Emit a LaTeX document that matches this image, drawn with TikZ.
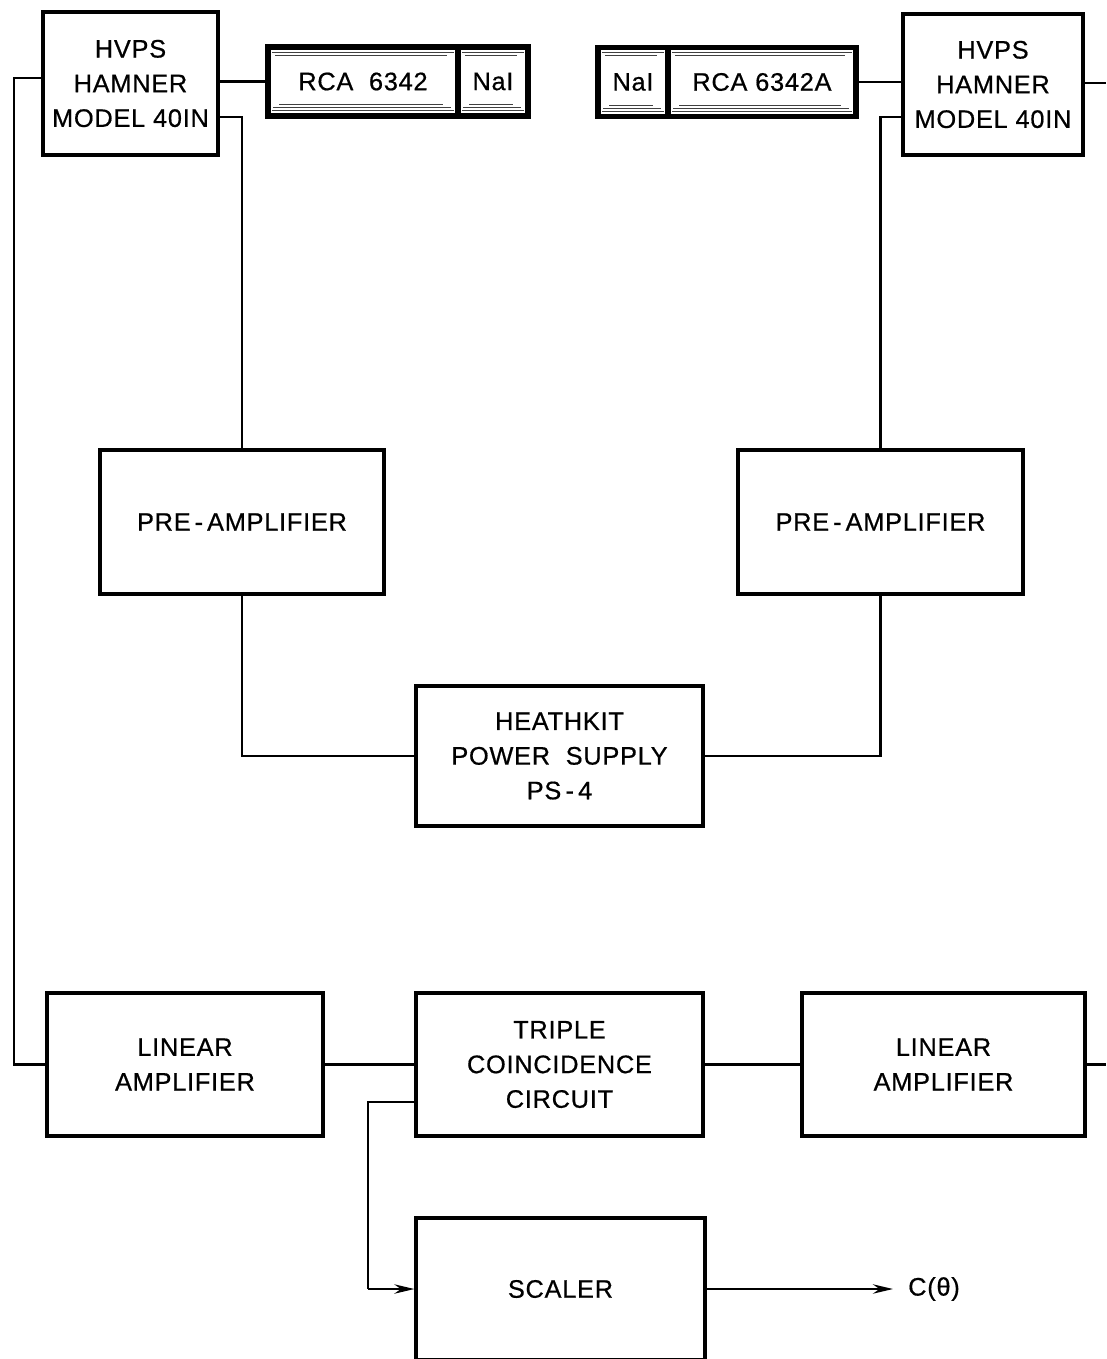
\documentclass[tikz,border=0pt]{standalone}
\usepackage{fontspec}
\setmainfont{Liberation Sans}[LetterSpace=3,FakeBold=0.6]
\usetikzlibrary{calc,arrows.meta}
\begin{document}
\begin{tikzpicture}[x=0.75pt,y=-0.75pt,
  blk/.style={draw,line width=2.4pt,align=center,inner sep=0pt,font=\fontsize{19}{26}\selectfont},
  wire/.style={line width=1.9pt},
  arr/.style={wire,-{Stealth[length=15pt,width=7pt]}},
  tubepart/.style={draw,line width=4.2pt,inner sep=0pt,font=\fontsize{19}{26}\selectfont,minimum height=51.75pt},
  shadeline/.style={line width=0.7pt,black!75}]
\fill[white] (0,0) rectangle (1106,1359);
\useasboundingbox (0,0) rectangle (1106,1359);
% levels
\coordinate (yA) at (0,78);
\coordinate (yB) at (0,117);
\coordinate (yC) at (0,83);
\coordinate (yD) at (0,1102);
\coordinate (lx) at (14,0);
\coordinate (sx) at (368,0);
\coordinate (rx) at (1106,0);
\coordinate (cend) at (893,0);
% blocks
\node[blk,minimum width=131.25pt,minimum height=107.25pt] (hvL) at (130.5,83.5) {HVPS\\HAMNER\\MODEL 40IN};
\node[blk,minimum width=135pt,minimum height=105.75pt] (hvR) at (993,84.5) {HVPS\\HAMNER\\MODEL 40IN};
\node[blk,minimum width=213pt,minimum height=108pt] (preL) at (242,522) {PRE\hspace{3pt}-\hspace{3pt}AMPLIFIER};
\node[blk,minimum width=213.75pt,minimum height=108pt] (preR) at (880.5,522) {PRE\hspace{3pt}-\hspace{3pt}AMPLIFIER};
\node[blk,minimum width=215.25pt,minimum height=105pt] (heath) at (559.5,756) {HEATHKIT\\POWER\ \ SUPPLY\\PS\,-\,4};
\node[blk,minimum width=207pt,minimum height=107.25pt] (linL) at (185,1064.5) {LINEAR\\AMPLIFIER};
\node[blk,minimum width=215.25pt,minimum height=107.25pt] (tcc) at (559.5,1064.5) {TRIPLE\\COINCIDENCE\\CIRCUIT};
\node[blk,minimum width=212.25pt,minimum height=107.25pt] (linR) at (943.5,1064.5) {LINEAR\\AMPLIFIER};
\node[blk,minimum width=216.75pt,minimum height=106.5pt] (scaler) at (560.5,1289) {SCALER};
\node[inner sep=0pt,anchor=west,font=\fontsize{19}{26}\selectfont] (cth) at (908,1289) {C(θ)};
% detector tubes
\node[tubepart,minimum width=142.5pt] (rcaL) at (363,81.5) {RCA\ \ 6342};
\node[tubepart,minimum width=52.5pt] (naiL) at (493,81.5) {NaI};
\node[tubepart,minimum width=52.5pt] (naiR) at (633,82) {NaI};
\node[tubepart,minimum width=141pt] (rcaR) at (762,82) {RCA 6342A};
\foreach \p in {rcaL,naiL,naiR,rcaR}{
  \draw[shadeline] ($(\p.north west)+(7,8)$) -- ($(\p.north east)+(-7,8)$);
  \draw[shadeline] ($(\p.north west)+(10,11)$) -- ($(\p.north east)+(-14,11)$);
  \draw[shadeline] ($(\p.south west)+(7,-8)$) -- ($(\p.south east)+(-7,-8)$);
  \draw[shadeline] ($(\p.south west)+(8,-11)$) -- ($(\p.south east)+(-10,-11)$);
  \draw[shadeline] ($(\p.south west)+(14,-14)$) -- ($(\p.south east)+(-18,-14)$);
}
% connectors
\draw[wire] (hvL.west |- yA) -- (lx |- yA) -- (lx |- linL.west) -- (linL.west);
\draw[wire] (rcaL.west -| hvL.east) -- (rcaL.west);
\draw[wire] (hvL.east |- yB) -| (preL.north);
\draw[wire] (preL.south) |- (heath.west);
\draw[wire] (heath.east) -| (preR.south);
\draw[wire] (preR.north) |- (hvR.west |- yB);
\draw[wire] (rcaR.east) -- (rcaR.east -| hvR.west);
\draw[wire] (hvR.east |- yC) -- (rx |- yC);
\draw[wire] (linL.east) -- (tcc.west);
\draw[wire] (tcc.east) -- (linR.west);
\draw[wire] (linR.east) -- (rx |- linR.east);
\draw[wire] (tcc.west |- yD) -- (sx |- yD) -- (sx |- scaler.west);
\draw[arr] (sx |- scaler.west) -- (scaler.west);
\draw[arr] (scaler.east) -- (cend |- scaler.east);
\end{tikzpicture}
\end{document}
